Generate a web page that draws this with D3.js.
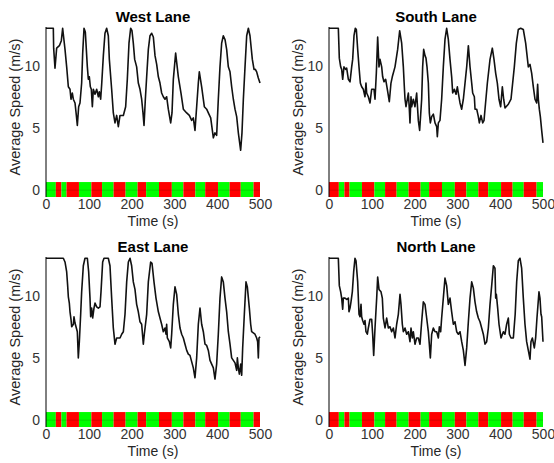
<!DOCTYPE html>
<html>
<head>
<meta charset="utf-8">
<script src="https://cdn.jsdelivr.net/npm/d3@7"></script>
<style>
  html, body { margin: 0; padding: 0; background: #fff; }
  svg { display: block; font-family: "Liberation Sans", Arial, Helvetica, sans-serif; }
</style>
</head>
<body>
<svg id="chart" width="554" height="463"></svg>
<script>
// Average lane speed (m/s) over time (s): [time, speed]
const westLane = [[0,13.0],[17.1,13.0],[17.9,11.4],[21.0,9.8],[24.9,11.4],[31.2,11.6],[35.8,12.0],[38.9,13.0],[44.4,11.3],[48.3,9.9],[52.2,8.3],[56.1,8.1],[58.4,7.3],[61.5,7.8],[63.9,7.3],[67.8,7.0],[70.9,6.0],[73.2,5.2],[76.3,6.7],[79.4,7.0],[83.3,8.6],[85.7,11.0],[88.8,13.0],[91.9,12.7],[96.6,9.9],[98.9,8.9],[101.2,9.1],[103.6,8.3],[105.9,8.1],[108.3,6.7],[110.6,8.1],[114.5,7.7],[118.4,8.1],[122.3,7.5],[124.6,7.9],[127.7,7.3],[130.1,8.5],[134.0,10.8],[137.8,12.6],[141.7,13.0],[145.6,12.4],[148.0,10.5],[153.4,8.1],[157.3,6.2],[161.2,5.4],[165.1,6.0],[169.0,5.1],[172.9,6.0],[180.7,6.0],[186.1,6.7],[190.0,8.9],[193.9,11.8],[197.8,13.0],[200.9,12.8],[204.0,11.8],[207.2,10.5],[211.8,9.9],[215.7,8.6],[219.6,8.1],[223.5,7.3],[226.6,6.2],[229.0,5.2],[232.1,7.3],[235.2,9.1],[239.1,11.3],[243.0,12.4],[246.9,12.6],[250.8,12.3],[254.7,10.8],[258.6,10.1],[262.5,9.1],[266.3,8.6],[270.2,7.8],[274.1,7.5],[278.0,7.3],[281.9,7.5],[285.8,6.5],[291.3,5.4],[294.4,6.2],[297.5,8.9],[302.9,11.0],[309.2,9.1],[315.4,7.8],[320.9,6.5],[328.7,6.2],[334.9,6.0],[340.3,5.6],[344.2,5.8],[348.1,4.8],[352.0,6.7],[355.9,8.6],[358.2,9.5],[363.7,8.3],[369.9,6.7],[375.4,6.5],[379.3,6.2],[384.8,5.8],[391.0,4.2],[394.8,4.6],[398.7,4.4],[402.6,7.3],[406.5,9.9],[410.4,11.8],[414.3,12.4],[418.2,12.1],[422.1,11.3],[426.0,9.9],[429.9,9.5],[433.8,8.3],[437.7,7.3],[441.6,6.5],[445.5,5.9],[449.4,4.6],[454.8,3.2],[457.9,4.6],[461.1,7.3],[465.0,9.9],[468.9,12.4],[472.8,13.0],[476.6,12.4],[482.1,10.5],[486.0,9.7],[489.1,9.7],[492.2,9.5],[496.1,9.0],[500,8.6]];

const southLane = [[0,13.0],[21.8,13.0],[24.1,10.6],[27.3,9.9],[29.6,9.7],[32.0,8.9],[35.0,9.9],[38.9,9.7],[41.3,9.8],[45.2,8.9],[49.1,8.7],[53.0,9.9],[55.3,10.5],[58.4,12.4],[61.5,13.0],[63.9,12.9],[67.0,11.3],[70.1,9.9],[73.2,8.6],[76.3,8.3],[80.2,8.1],[84.1,7.5],[86.4,8.6],[88.0,7.8],[91.9,7.5],[95.8,7.0],[99.7,8.1],[105.1,8.1],[107.5,7.3],[110.6,9.4],[113.7,12.3],[116.8,9.9],[119.2,10.5],[123.1,9.9],[125.4,9.1],[128.5,8.7],[132.4,8.9],[136.3,8.1],[140.9,7.1],[144.8,8.6],[147.9,9.1],[154.2,9.9],[160.4,11.3],[165.1,12.8],[169.8,11.8],[173.7,9.9],[176.0,8.3],[177.6,7.3],[179.9,6.7],[183.0,7.3],[185.4,7.8],[187.7,6.5],[189.2,5.4],[191.6,7.5],[193.1,6.7],[197.0,7.3],[200.9,6.7],[204.8,7.8],[208.7,5.6],[211.8,4.8],[216.5,7.3],[218.8,9.9],[221.2,11.3],[224.3,10.8],[226.6,10.6],[229.0,9.9],[232.1,8.6],[234.4,6.2],[236.8,5.4],[239.9,5.9],[243.8,6.1],[247.7,5.4],[251.6,5.1],[253.1,4.3],[255.5,5.4],[259.3,5.6],[263.2,7.3],[267.1,9.9],[271.0,12.1],[274.9,13.0],[278.8,12.1],[282.7,10.5],[286.6,9.1],[289.0,7.8],[292.9,8.1],[296.8,7.7],[299.9,8.3],[302.2,7.8],[306.1,7.0],[310.0,6.5],[313.9,7.3],[317.8,8.6],[321.7,9.9],[325.6,11.6],[329.5,9.9],[333.4,8.6],[335.7,7.8],[339.6,7.5],[341.2,6.5],[345.1,6.5],[348.9,5.9],[351.3,5.4],[355.2,6.0],[359.1,5.4],[362.2,5.6],[364.5,6.5],[370.0,8.6],[376.2,10.5],[381.6,11.4],[385.5,10.5],[389.4,9.4],[393.3,8.6],[397.2,7.3],[401.1,6.7],[405.0,8.3],[408.1,7.3],[411.2,6.6],[419.0,6.9],[425.2,7.3],[429.1,8.6],[433.0,9.9],[437.7,11.8],[442.3,12.9],[447.8,13.0],[454.0,12.9],[459.5,11.8],[465.7,9.9],[469.6,10.1],[473.5,9.4],[477.4,8.3],[481.3,7.3],[485.2,7.0],[487.5,8.5],[489.1,7.3],[491.4,6.5],[493.8,5.9],[496.9,4.8],[500,3.8]];

const eastLane = [[0,13.0],[40.5,13.0],[44.4,12.7],[48.3,11.9],[50.6,10.8],[52.2,9.9],[54.5,9.4],[56.1,8.7],[58.4,8.1],[60.0,7.5],[63.9,7.7],[65.4,8.3],[67.8,7.8],[70.1,7.5],[73.2,7.1],[75.5,5.0],[77.9,6.3],[81.0,8.5],[83.3,10.3],[87.2,12.4],[91.1,13.0],[96.6,13.0],[99.7,11.9],[102.8,9.8],[104.4,8.3],[106.7,9.0],[109.0,8.2],[112.1,9.0],[114.5,9.4],[118.4,9.1],[122.3,9.0],[126.2,9.1],[128.5,10.3],[132.4,12.7],[135.5,13.0],[145.6,13.0],[149.5,12.4],[153.4,9.8],[157.3,7.4],[161.2,6.1],[165.1,6.6],[169.0,6.6],[172.9,6.6],[176.8,6.9],[180.7,7.1],[184.6,8.5],[188.5,11.1],[192.4,12.7],[196.3,13.0],[200.1,12.4],[204.0,11.1],[207.9,10.5],[211.8,9.3],[215.7,8.7],[219.6,7.9],[223.5,7.7],[227.4,6.1],[229.7,6.9],[235.2,8.5],[239.1,11.1],[244.5,12.7],[247.7,12.6],[252.3,11.1],[257.0,9.8],[262.5,8.7],[266.3,8.2],[270.2,7.7],[274.1,7.1],[278.0,7.4],[280.4,6.9],[281.9,7.7],[283.5,6.6],[288.2,6.3],[291.3,5.8],[293.6,6.9],[297.5,9.3],[301.4,10.7],[305.3,10.1],[309.2,8.5],[313.1,7.4],[317.0,6.9],[320.9,6.6],[324.8,6.1],[328.7,5.6],[332.5,5.3],[336.4,5.2],[340.3,4.7],[344.2,4.2],[348.1,3.4],[352.0,5.0],[355.9,7.7],[359.8,9.0],[363.7,7.7],[367.6,7.1],[371.5,6.1],[375.4,6.0],[379.3,5.6],[383.2,4.8],[387.1,4.5],[391.0,4.2],[394.8,3.3],[398.7,4.5],[402.6,6.9],[406.5,9.8],[410.4,11.5],[414.3,11.1],[418.2,9.8],[422.1,8.7],[426.0,7.1],[429.9,6.1],[433.8,5.0],[437.7,4.8],[441.6,4.6],[445.5,4.0],[447.1,5.0],[449.4,4.2],[451.8,3.7],[454.9,4.5],[457.2,3.6],[459.5,5.8],[463.4,8.5],[467.3,11.1],[470.4,10.7],[475.1,9.0],[478.2,7.7],[480.5,7.1],[484.4,7.0],[488.3,6.9],[492.2,6.6],[494.5,6.3],[496.1,5.0],[497.6,6.6],[500,6.7]];

const northLane = [[0,13.0],[21.8,13.0],[24.1,10.8],[27.3,10.3],[29.6,9.8],[32.0,8.9],[33.5,9.8],[37.4,9.8],[41.3,9.7],[45.2,9.8],[46.7,8.7],[49.1,9.0],[51.4,9.5],[54.5,10.3],[57.6,11.9],[60.7,13.0],[63.1,12.8],[67.0,11.1],[70.1,8.5],[72.4,8.3],[74.8,9.3],[76.3,8.3],[78.7,8.0],[81.8,7.7],[84.1,8.0],[86.4,7.1],[89.6,6.9],[91.9,7.4],[95.8,8.1],[99.7,8.1],[102.0,6.9],[104.4,5.2],[107.5,7.4],[111.4,9.8],[113.7,11.5],[116.8,10.5],[121.5,10.3],[124.6,9.8],[126.9,8.2],[130.9,7.4],[134.7,8.2],[138.6,7.4],[142.5,7.5],[146.4,7.1],[150.3,7.4],[154.2,6.6],[158.1,7.7],[162.0,8.5],[165.9,10.1],[168.2,9.3],[171.3,7.7],[173.7,7.1],[177.6,7.4],[181.5,6.9],[185.4,7.1],[189.2,6.3],[191.6,7.4],[194.7,6.6],[197.0,7.1],[200.9,6.1],[204.8,6.6],[208.7,6.6],[212.6,6.1],[216.5,7.9],[220.4,9.5],[224.3,9.3],[228.2,8.2],[232.1,7.1],[234.4,6.1],[236.8,5.0],[239.9,6.9],[243.8,7.4],[247.7,7.1],[251.6,7.1],[255.5,6.6],[257.8,7.5],[260.9,7.1],[263.2,8.2],[267.1,9.8],[271.0,11.4],[274.9,10.8],[278.8,9.3],[282.7,9.8],[286.6,8.7],[290.5,7.7],[294.4,7.9],[298.3,7.1],[302.2,6.9],[306.1,7.1],[310.0,6.3],[313.9,5.6],[317.8,4.4],[321.7,5.8],[325.6,7.9],[329.5,9.8],[333.4,11.1],[337.3,10.6],[341.1,9.5],[345.0,8.7],[348.9,8.2],[352.8,7.9],[356.7,7.4],[360.6,6.9],[364.5,6.1],[368.4,6.3],[372.3,7.4],[376.2,9.3],[380.1,10.8],[384.0,12.4],[387.8,12.2],[389.4,9.8],[391.0,10.1],[394.1,9.0],[397.2,7.7],[401.9,6.6],[407.4,7.1],[411.2,6.9],[415.1,7.7],[419.0,8.2],[421.4,6.9],[425.2,6.6],[430.7,6.6],[435.0,8.5],[438.5,11.1],[442.3,12.8],[446.2,13.0],[450.1,12.2],[454.0,9.8],[457.9,7.7],[461.8,6.3],[465.7,5.6],[469.6,4.9],[471.9,6.3],[475.1,6.6],[479.7,5.8],[482.8,6.6],[485.9,8.2],[490.6,10.3],[492.9,9.8],[495.3,8.5],[496.9,8.3],[500,6.3]];

// Signal phase switch times (s) and the phase shown on each approach
const phaseEdges = [0,23,36,48,77,106,131,158,186,214,234,264,294,321,349,372,402,429,455,485,500];
const eastWestPhases = ["green","red","green","red","green","red","green","red","green","red","green","red","green","red","green","red","green","red","green","red"];
const northSouthPhases = ["red","green","red","green","red","green","red","green","red","green","red","green","red","green","red","green","red","green","red","green"];

const xTicks = [0,100,200,300,400,500];
const yTicks = [0,5,10];
const titles = ["West Lane","South Lane","East Lane","North Lane"];

const phaseColor = { green: "#00ff00", red: "#ff0000" };

const panels = [
  { title: titles[0], data: westLane,  phases: eastWestPhases,   left: 46,  top: 27,  labelX: 20 },
  { title: titles[1], data: southLane, phases: northSouthPhases, left: 329, top: 27,  labelX: 303 },
  { title: titles[2], data: eastLane,  phases: eastWestPhases,   left: 46,  top: 257, labelX: 20 },
  { title: titles[3], data: northLane, phases: northSouthPhases, left: 329, top: 257, labelX: 303 }
];

const plotW = 214, plotH = 170;
const svg = d3.select("#chart");

panels.forEach(p => {
  const g = svg.append("g").attr("transform", `translate(${p.left},${p.top})`);
  const x = d3.scaleLinear().domain([0, 500]).range([0, plotW]);
  const y = d3.scaleLinear().domain([-0.55, 13.1]).range([plotH, 0]);

  // signal phase strip along the bottom
  const segs = p.phases.map((ph, i) => ({ ph, t0: phaseEdges[i], t1: phaseEdges[i + 1] }));
  g.selectAll("rect.phase").data(segs).join("rect")
    .attr("class", "phase")
    .attr("x", d => x(d.t0))
    .attr("width", d => x(d.t1) - x(d.t0))
    .attr("y", y(0.65))
    .attr("height", y(-0.55) - y(0.65))
    .attr("fill", d => phaseColor[d.ph]);
  g.append("line")
    .attr("x1", x(0)).attr("x2", x(500))
    .attr("y1", y(0)).attr("y2", y(0))
    .attr("stroke", "#000").attr("stroke-opacity", 0.2).attr("stroke-width", 0.8);

  // speed trace
  const line = d3.line().x(d => x(d[0])).y(d => y(d[1]));
  g.append("path").datum(p.data)
    .attr("d", line)
    .attr("fill", "none")
    .attr("stroke", "#111")
    .attr("stroke-width", 1.6)
    .attr("stroke-linejoin", "round");

  // y axis
  const yAxis = d3.axisLeft(y).tickValues(yTicks).tickSize(0).tickPadding(6).tickFormat(d3.format("d"));
  const ya = g.append("g").call(yAxis);
  ya.select(".domain").remove();
  ya.selectAll("text").attr("font-size", 14).attr("fill", "#333").attr("font-family", null);
  g.append("line").attr("x1", 0).attr("x2", 0).attr("y1", 0).attr("y2", plotH)
    .attr("stroke", "#000").attr("stroke-width", 1);

  // x axis labels
  const xAxis = d3.axisBottom(x).tickValues(xTicks).tickSize(0).tickPadding(0).tickFormat(d3.format("d"));
  const xa = g.append("g").attr("transform", `translate(0,${plotH})`).call(xAxis);
  xa.select(".domain").remove();
  xa.selectAll("text").attr("font-size", 14).attr("fill", "#333").attr("font-family", null)
    .attr("dy", null).attr("y", 12);

  // titles and axis labels
  g.append("text").attr("x", plotW / 2).attr("y", -5)
    .attr("text-anchor", "middle").attr("font-size", 15).attr("font-weight", "bold")
    .attr("fill", "#000").text(p.title);
  g.append("text").attr("x", plotW / 2).attr("y", plotH + 29)
    .attr("text-anchor", "middle").attr("font-size", 14).attr("fill", "#262626")
    .text("Time (s)");
  svg.append("text")
    .attr("transform", `translate(${p.labelX},${p.top + 80}) rotate(-90)`)
    .attr("text-anchor", "middle").attr("font-size", 14.5).attr("fill", "#262626")
    .text("Average Speed (m/s)");
});
</script>
</body>
</html>
